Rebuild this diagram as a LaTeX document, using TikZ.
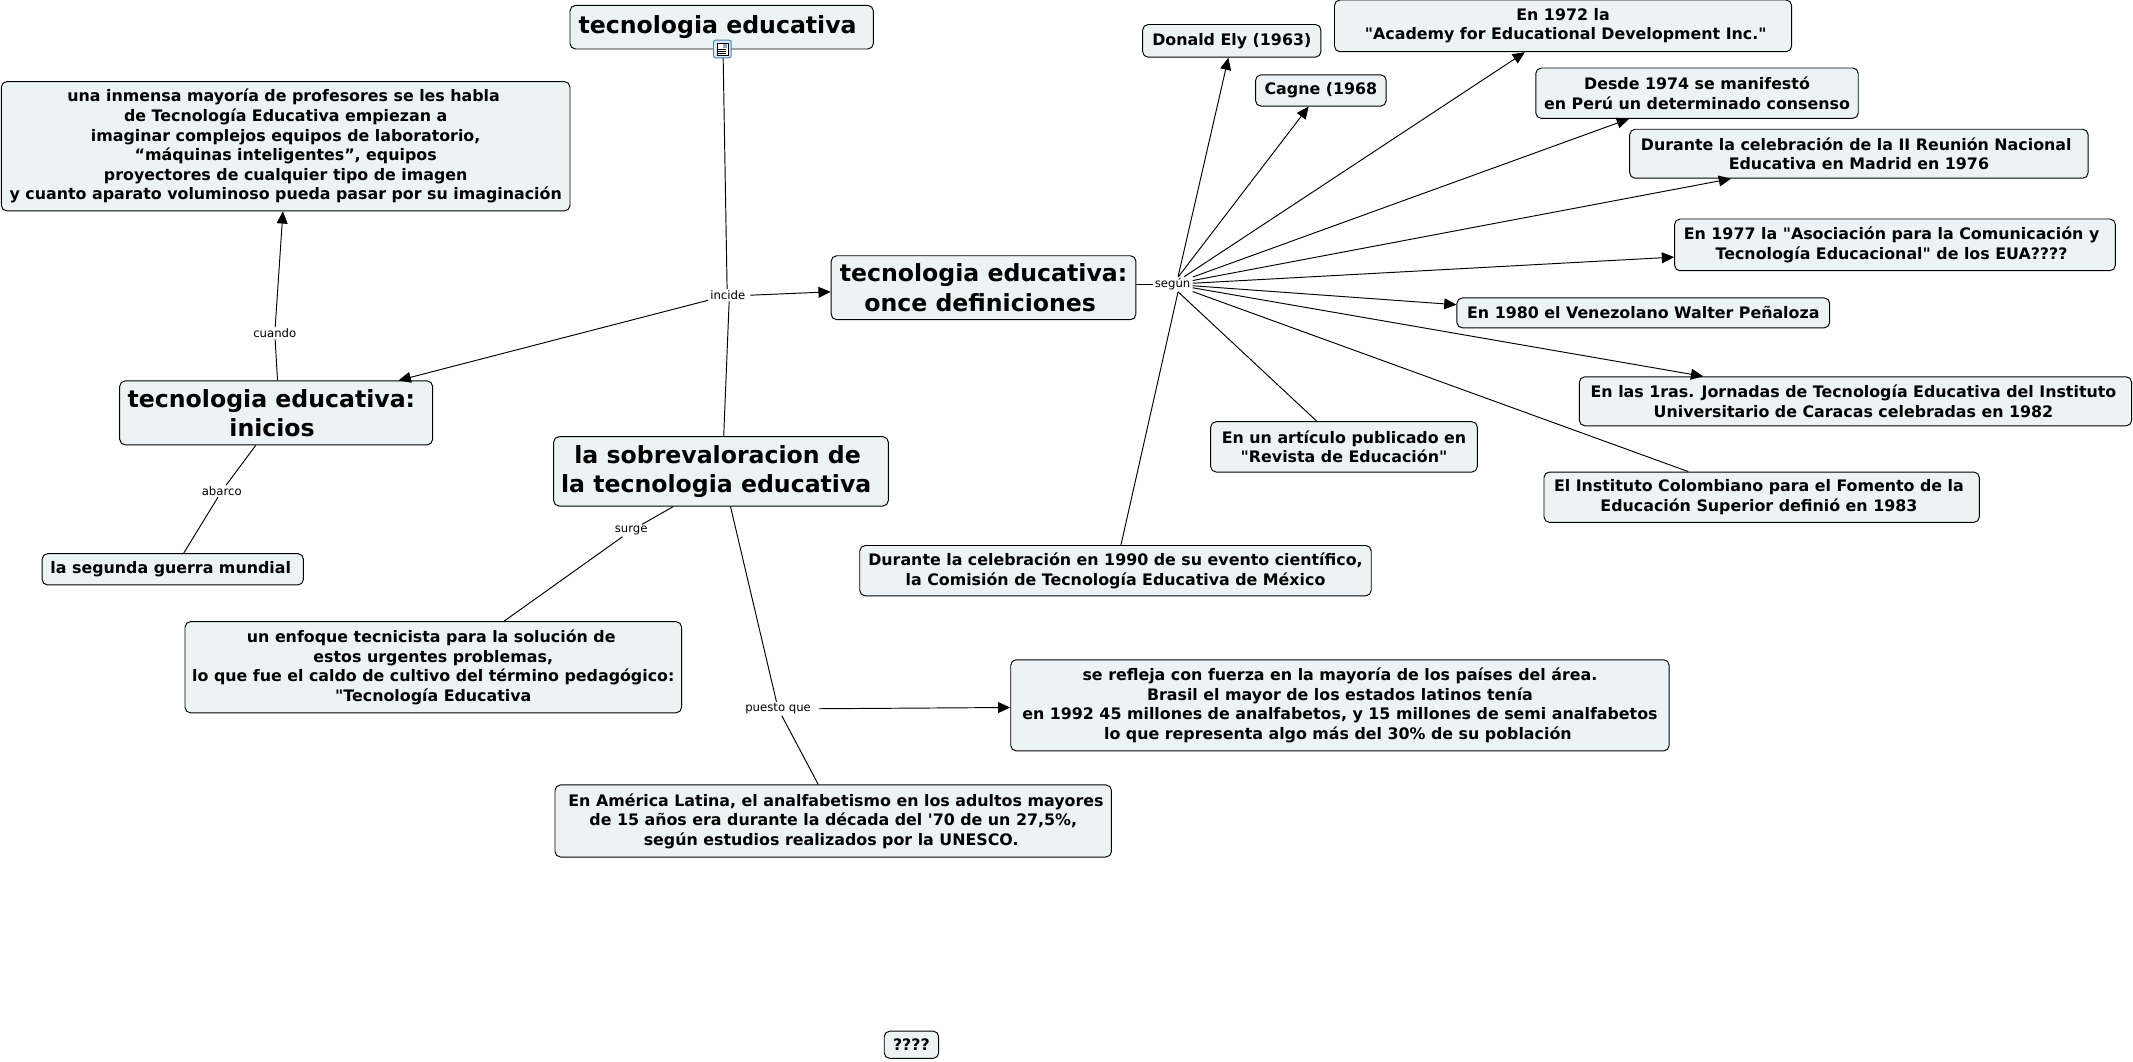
\documentclass[tikz,border=0pt]{standalone}
\usepackage{fontspec}
\newfontfamily\mapfont{DejaVu Sans}
\usetikzlibrary{arrows.meta,positioning,calc}
\definecolor{CMFill}{HTML}{ECF3F5}
\definecolor{CMInk}{HTML}{000000}
\definecolor{CMIcon}{HTML}{3F7FC4}
\definecolor{CMIconFill}{HTML}{DCE9F7}
\definecolor{CMPhoto}{HTML}{8FA3C8}
\tikzset{
  flow/.style={-{Triangle[length=9pt,width=8pt]},CMInk,line width=0.7pt},
  plainlink/.style={CMInk,line width=0.7pt},
  concept/.style={draw=CMInk,line width=0.7pt,fill=CMFill,rounded corners=4pt,
                  text=CMInk,inner sep=0pt,align=center,
                  font=\fontsize{11.65}{14.4}\mapfont\bfseries},
  conceptbig/.style={concept,font=\fontsize{17.35}{21.5}\mapfont\bfseries},
  linklabel/.style={text=CMInk,inner xsep=1.5pt,inner ysep=1pt,font=\fontsize{8.6}{10}\mapfont},
}
\begin{document}
\begin{tikzpicture}[x=1pt,y=-1pt]
    \useasboundingbox (0,0) rectangle (1568,780);

    % main concepts
    \node[conceptbig,minimum width=223pt,minimum height=32pt] (titulo) at (530.5,20) {tecnologia educativa\hspace*{6pt}};
    \node[conceptbig,minimum width=224pt,minimum height=47pt] (once) at (723,211.5) {tecnologia educativa:\\once definiciones\hspace*{5pt}};
    \node[conceptbig,minimum width=230pt,minimum height=47pt] (inicios) at (203,303.5) {tecnologia educativa:\hspace*{7pt}\\inicios\hspace*{6pt}};
    \node[conceptbig,minimum width=246pt,minimum height=51pt] (sobre) at (530,346.5) {la sobrevaloracion de\hspace*{5pt}\\la tecnologia educativa\hspace*{7pt}};

    % left side
    \node[concept,minimum width=418pt,minimum height=95pt] (mayoria) at (210,107.5)
      {una inmensa mayoría de profesores se les habla\hspace*{3pt}\\
       de Tecnología Educativa empiezan a\hspace*{3pt}\\
       imaginar complejos equipos de laboratorio,\hspace*{3pt}\\
       “máquinas inteligentes”, equipos\hspace*{3pt}\\
       proyectores de cualquier tipo de imagen\hspace*{3pt}\\
       y cuanto aparato voluminoso pueda pasar por su imaginación};
    \node[concept,minimum width=192pt,minimum height=23pt] (guerra) at (127,418.5) {la segunda guerra mundial\hspace*{3pt}};
    \node[concept,minimum width=365pt,minimum height=67pt] (enfoque) at (318.5,490.5)
      {un enfoque tecnicista para la solución de\hspace*{3pt}\\
       estos urgentes problemas,\hspace*{3pt}\\
       lo que fue el caldo de cultivo del término pedagógico:\\
       "Tecnología Educativa};
    \node[concept,minimum width=409pt,minimum height=53pt] (america) at (612.5,603.5)
      {\hspace*{4pt}En América Latina, el analfabetismo en los adultos mayores\\
       de 15 años era durante la década del '70 de un 27,5\%,\\
       según estudios realizados por la UNESCO.\hspace*{3pt}};
    \node[concept,minimum width=484pt,minimum height=67pt] (refleja) at (985,518.5)
      {se refleja con fuerza en la mayoría de los países del área.\\
       Brasil el mayor de los estados latinos tenía\\
       en 1992 45 millones de analfabetos, y 15 millones de semi analfabetos\hspace*{3pt}\\
       lo que representa algo más del 30\% de su población\hspace*{3pt}};
    \node[concept,minimum width=40pt,minimum height=20pt] (dudas) at (670,768) {????};

    % definitions
    \node[concept,minimum width=376pt,minimum height=37pt] (mexico) at (820,419.5)
      {Durante la celebración en 1990 de su evento científico,\\la Comisión de Tecnología Educativa de México};
    \node[concept,minimum width=131pt,minimum height=24pt] (ely) at (905.5,30) {Donald Ely (1963)};
    \node[concept,minimum width=96pt,minimum height=23pt] (cagne) at (971,66.5) {Cagne (1968};
    \node[concept,minimum width=336pt,minimum height=38pt] (academy) at (1149,19)
      {En 1972 la\\\hspace*{4pt}"Academy for Educational Development Inc."};
    \node[concept,minimum width=237pt,minimum height=37pt] (peru) at (1247.5,68.5)
      {Desde 1974 se manifestó\\en Perú un determinado consenso};
    \node[concept,minimum width=337pt,minimum height=36pt] (madrid) at (1366.5,113)
      {Durante la celebración de la II Reunión Nacional\hspace*{4pt}\\Educativa en Madrid en 1976};
    \node[concept,minimum width=324pt,minimum height=38pt] (eua) at (1393,180)
      {En 1977 la "Asociación para la Comunicación y\hspace*{5pt}\\Tecnología Educacional" de los EUA????\hspace*{5pt}};
    \node[concept,minimum width=274pt,minimum height=22pt] (penaloza) at (1208,230) {En 1980 el Venezolano Walter Peñaloza};
    \node[concept,minimum width=406pt,minimum height=36pt] (caracas) at (1364,295)
      {En las 1ras. Jornadas de Tecnología Educativa del Instituto\hspace*{3pt}\\Universitario de Caracas celebradas en 1982\hspace*{3pt}};
    \node[concept,minimum width=196pt,minimum height=37pt] (revista) at (988,328.5)
      {En un artículo publicado en\\"Revista de Educación"};
    \node[concept,minimum width=320pt,minimum height=37pt] (colombia) at (1295,365.5)
      {El Instituto Colombiano para el Fomento de la\hspace*{4pt}\\Educación Superior definió en 1983\hspace*{4pt}};

    % link labels
    \node[linklabel] (incide) at (535,217) {incide};
    \node[linklabel] (cuando) at (202,245) {cuando};
    \node[linklabel] (abarco) at (163,361) {abarco};
    \node[linklabel] (surge) at (464,390) {surge};
    \node[linklabel] (puesto) at (572,521) {puesto que};
    \node[linklabel] (segun) at (862,209) {según};

    % centre column
    \draw[plainlink] ([xshift=1pt]titulo.south) -- ([xshift=-.5pt]incide.north);
    \draw[plainlink] ([xshift=2pt]sobre.north) -- ([xshift=1pt]incide.south);
    \draw[flow] ([xshift=2pt]incide.east) -- ([yshift=-3pt]once.west);
    \draw[flow] (incide) -- ([xshift=90pt]inicios.north);
    \draw[plainlink] ([xshift=1pt]inicios.north) -- (cuando);
    \draw[flow] (cuando) -- ([xshift=-2pt]mayoria.south);
    \draw[plainlink] ([xshift=-15pt]inicios.south) -- (abarco);
    \draw[plainlink] (abarco) -- ([xshift=8pt]guerra.north);
    \draw[plainlink] ([xshift=-35pt]sobre.south) -- (surge);
    \draw[plainlink] (surge) -- ([xshift=52pt]enfoque.north);
    \draw[plainlink] ([xshift=7pt]sobre.south) -- (puesto);
    \draw[plainlink] (puesto) -- ([xshift=-11pt]america.north);
    \draw[flow] ([xshift=4pt]puesto.east) -- (refleja);

    % fan of definitions
    \draw[plainlink] (once.east |- segun) -- (segun);
    \draw[flow] ([xshift=4pt]segun.north) -- ([xshift=-2.5pt]ely.south);
    \draw[flow] (segun) -- ([xshift=-9pt]cagne.south);
    \draw[flow] (segun) -- ([xshift=-28pt]academy.south);
    \draw[flow] (segun) -- ([xshift=-50pt]peru.south);
    \draw[flow] (segun) -- ([xshift=-94pt]madrid.south);
    \draw[flow] (segun) -- ([yshift=-9pt]eua.west);
    \draw[flow] (segun) -- ([yshift=6pt]penaloza.west);
    \draw[flow] (segun) -- ([xshift=-112pt]caracas.north);
    \draw[plainlink] ([xshift=4pt]segun.south) -- ([xshift=4pt]mexico.north);
    \draw[plainlink] ([xshift=4pt]segun.south) -- ([xshift=-20pt]revista.north);
    \draw[plainlink] (segun) -- ([xshift=-54pt]colombia.north);

    % resource icon
    \node[draw=CMIcon,fill=CMIconFill,line width=0.7pt,rounded corners=1.5pt,minimum width=13pt,minimum height=13pt,inner sep=0pt] (icono) at (531,36) {};
    \node[draw=CMInk,fill=white,line width=0.4pt,minimum width=8pt,minimum height=9pt,inner sep=0pt] (hoja) at (icono) {};
    \node[fill=CMPhoto,minimum size=3pt,inner sep=0pt] (foto) at ([xshift=2pt,yshift=2.2pt]hoja.center) {};
    \foreach \ypos in {0.5,2,3.5}
      \draw[CMInk,line width=0.4pt] ([xshift=-3pt,yshift=-\ypos pt]hoja.center) -- ([xshift=3pt,yshift=-\ypos pt]hoja.center);
  \end{tikzpicture}
\end{document}
